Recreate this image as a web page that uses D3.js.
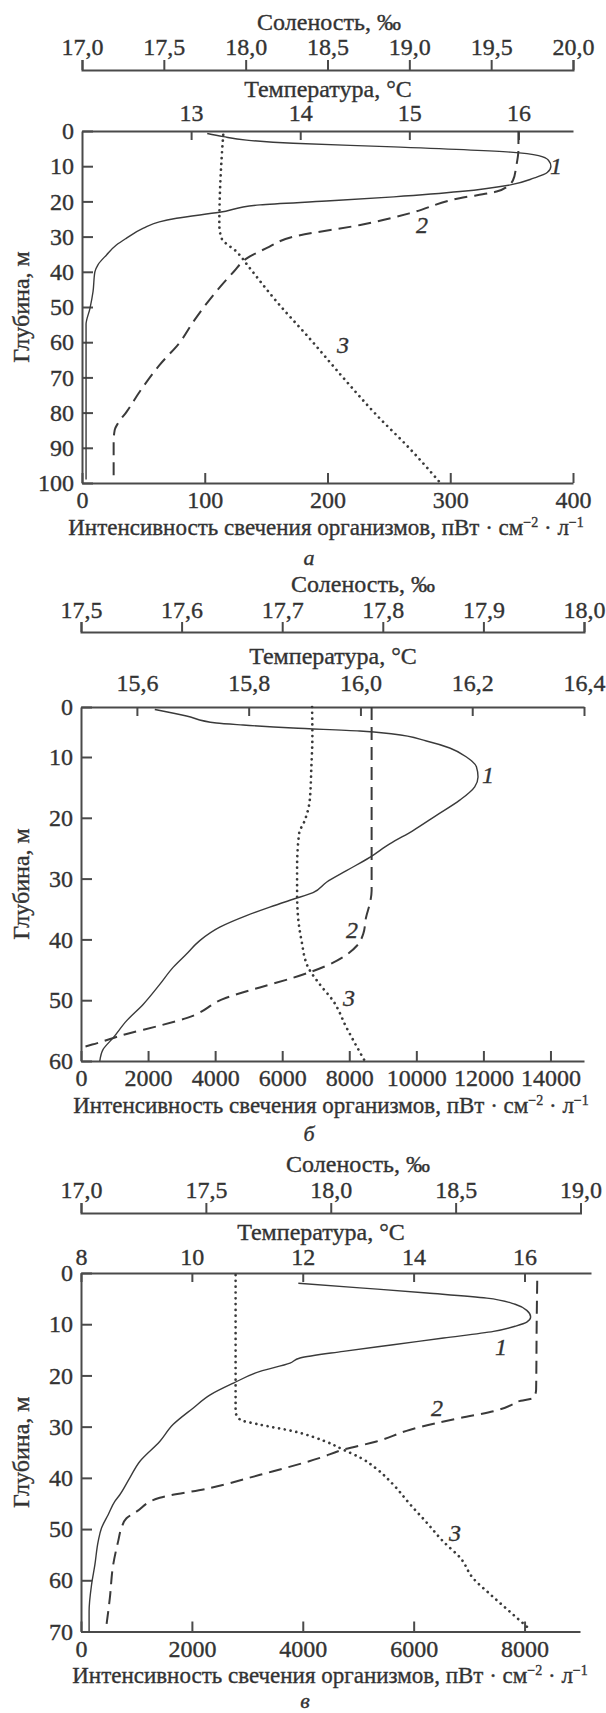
<!DOCTYPE html>
<html><head><meta charset="utf-8">
<script src="https://cdn.jsdelivr.net/npm/d3@7"></script>
<style>
body{margin:0;background:#fff;}
</style></head><body>
<svg id="c" width="606" height="1713" style="font-family:'Liberation Serif','DejaVu Serif',serif"></svg>
<script>
// ===== Panel а =====
const salTicksA = [17.0,17.5,18.0,18.5,19.0,19.5,20.0];
const tempTicksA = [13,14,15,16];
const intTicksA = [0,100,200,300,400];
const depthTicksA = [0,10,20,30,40,50,60,70,80,90,100];
// [depth, value]
const lumA = [[0.7,102],[1.6,115],[2.6,134],[3.5,172],[4.5,254],[6,349],[7,372],[8.3,380],[10,382],[11.8,379],[13.4,368],[15.3,349],[17.2,308],[18.7,254],[19.9,199],[21,145],[23.1,112],[24.8,77],[25.8,63],[27.6,50],[30.5,36],[32.4,28],[35.2,20],[38,13],[40,10.5],[45.6,9],[50.4,6.5],[55,3.3],[99,3.3]];
const tempA = [[0,16.0],[5,16.0],[10,15.98],[14,15.95],[15.5,15.91],[17.2,15.80],[19.1,15.46],[23.4,15.0],[26.7,14.55],[30,13.94],[33.3,13.69],[36.2,13.51],[40,13.39],[45.6,13.23],[54.2,13.02],[59.9,12.90],[66.5,12.71],[74,12.53],[79.7,12.41],[83,12.33],[84.9,12.30],[88.3,12.29],[98.2,12.29]];
const salA = [[1.1,17.863],[7.8,17.853],[17.2,17.843],[26.7,17.839],[30.5,17.853],[34.3,17.945],[39,18.026],[48.5,18.19],[58.9,18.39],[70.3,18.60],[80.7,18.80],[90.1,19.0],[100,19.19]];

// ===== Panel б =====
const salTicksB = [17.5,17.6,17.7,17.8,17.9,18.0];
const tempTicksB = [15.6,15.8,16.0,16.2,16.4];
const intTicksB = [0,2000,4000,6000,8000,10000,12000,14000];
const depthTicksB = [0,10,20,30,40,50,60];
const lumB = [[0.5,2200],[1.8,3146],[3.2,4040],[3.6,4833],[4.2,6324],[4.8,8312],[5.4,9305],[6.8,10301],[8.2,10996],[10,11494],[11.6,11792],[13.3,11840],[14.9,11741],[17.1,11294],[19.6,10600],[22.1,9902],[24.3,9207],[26.5,8611],[28.7,7916],[30.6,7320],[32.3,6920],[33.4,6324],[34.7,5629],[36.1,4934],[38.0,4138],[40.2,3542],[42.4,3146],[44.6,2746],[47.4,2349],[50.7,1852],[53.4,1357],[56.2,957],[58.1,659],[60,561]];
const tempB = [[0,16.02],[10,16.02],[20,16.02],[32,16.02],[33.6,16.018],[36.4,16.01],[39.1,16.005],[41.0,15.994],[44.3,15.94],[46.3,15.88],[47.9,15.82],[49.6,15.76],[52.9,15.69],[54.2,15.64],[55.6,15.58],[57.3,15.52],[57.8,15.5]];
const salB = [[0,17.7297],[5.9,17.730],[11.6,17.729],[17.1,17.7274],[20.4,17.7225],[22.6,17.7168],[28.1,17.7148],[32.5,17.7148],[36.4,17.7158],[40.2,17.7192],[44.6,17.7258],[47.4,17.7374],[50.1,17.7506],[54.5,17.7639],[60,17.7821]];

// ===== Panel в =====
const salTicksC = [17.0,17.5,18.0,18.5,19.0];
const tempTicksC = [8,10,12,14,16];
const intTicksC = [0,2000,4000,6000,8000];
const depthTicksC = [0,10,20,30,40,50,60,70];
const lumC = [[2,3920],[2.9,5030],[3.9,6240],[4.9,7320],[6.1,7830],[7.3,8040],[8.6,8110],[9.6,8040],[10.4,7830],[11.4,7440],[12.7,6540],[14,5630],[15.3,4730],[16.6,3950],[17.6,3770],[19.2,3230],[21.5,2750],[23.8,2330],[26.4,2020],[29.6,1660],[32.9,1420],[36.8,1060],[40,880],[43.3,700],[44.6,610],[47.2,490],[49.8,370],[52.4,310],[57,250],[60.9,190],[66.1,146],[70,146]];
const tempC = [[1.5,16.23],[10,16.22],[22.8,16.21],[24.4,16.16],[25.1,15.88],[25.4,15.83],[27.0,15.44],[28.3,14.84],[30.6,13.94],[32.9,13.33],[34.5,12.73],[36.1,12.31],[39.4,11.23],[42.0,10.32],[43.9,9.42],[46.6,9.0],[47.9,8.82],[49.8,8.73],[52.4,8.67],[57,8.58],[63.5,8.52],[68.7,8.46]];
const salC = [[0.4,17.619],[27,17.619],[28.6,17.636],[29.6,17.716],[30.9,17.85],[32.9,17.98],[34.5,18.05],[36.1,18.12],[38.1,18.18],[41.3,18.25],[45.3,18.32],[48.5,18.38],[52.4,18.45],[55.7,18.52],[59.6,18.57],[62.8,18.64],[65.4,18.70],[68.4,18.77],[69.7,18.80]];

const seriesNames = ["1","2","3"];
const panelLetters = ["а","б","в"];

// ===== drawing =====
const svg = d3.select("#c");
const ru = d3.formatLocale({decimal:",", thousands:"", grouping:[3], currency:["",""]});
const f1 = ru.format(".1f"), fd = ru.format("d");
const FONT = "'Liberation Serif','DejaVu Serif',serif";
const FS = 24, INK = "#333333", AX = "#4a4a4a", LN = "#3a3a3a";

function txt(sel, size){
  return sel.style("font-family", FONT).style("font-size", size+"px").attr("fill", INK)
    .attr("stroke", INK).attr("stroke-width", 0.35);
}
function styleAxis(g){
  g.attr("font-family", null).attr("font-size", null);
  g.selectAll("path.domain").attr("stroke", AX).attr("stroke-width", 2);
  g.selectAll(".tick line").attr("stroke", AX).attr("stroke-width", 2);
  txt(g.selectAll(".tick text"), FS);
}

function panel(p){
  const g = svg.append("g");
  // salinity axis (top-most)
  g.append("g").attr("transform",`translate(0,${p.salY})`)
    .call(d3.axisTop(p.xS).tickValues(p.salTicks).tickFormat(f1).tickSize(10).tickSizeOuter(10).tickPadding(p.salPad))
    .call(styleAxis);
  txt(g.append("text").attr("x",p.salTitle[0]).attr("y",p.salTitle[1]).attr("text-anchor","middle"), FS)
    .text("Соленость, ‰");
  // temperature axis
  g.append("g").attr("transform",`translate(0,${p.topY})`)
    .call(d3.axisTop(p.xT).tickValues(p.tempTicks).tickFormat(p.tempFmt).tickSizeInner(-9).tickSizeOuter(0).tickPadding(p.tempPad))
    .call(styleAxis);
  txt(g.append("text").attr("x",p.tempTitle[0]).attr("y",p.tempTitle[1]).attr("text-anchor","middle"), FS)
    .text("Температура, °C");
  // depth axis
  g.append("g").attr("transform",`translate(${p.xI.range()[0]},0)`)
    .call(d3.axisLeft(p.y).tickValues(p.depthTicks).tickFormat(fd).tickSizeInner(-11).tickSizeOuter(0).tickPadding(8))
    .call(styleAxis);
  const yr = p.y.range();
  const yc = (yr[0]+yr[yr.length-1])/2;
  txt(g.append("text").attr("transform",`translate(${p.depthTitleX},${yc}) rotate(-90)`).attr("text-anchor","middle")
    .attr("dy","0.35em"), FS).text("Глубина, м");
  // intensity axis (bottom)
  g.append("g").attr("transform",`translate(0,${p.botY})`)
    .call(d3.axisBottom(p.xI).tickValues(p.intTicks).tickFormat(fd).tickSizeInner(-10).tickSizeOuter(0).tickPadding(8))
    .call(styleAxis);
  const t = txt(g.append("text").attr("x",p.botTitle[0]).attr("y",p.botTitle[1]).attr("text-anchor","middle"), 23);
  t.append("tspan").text("Интенсивность свечения организмов, пВт · см");
  t.append("tspan").attr("dy",-8).style("font-size","14px").text("−2");
  t.append("tspan").attr("dy",8).text(" · л");
  t.append("tspan").attr("dy",-8).style("font-size","14px").text("−1");
  txt(g.append("text").attr("x",p.letter[0]).attr("y",p.letter[1]).attr("text-anchor","middle"), 22)
    .style("font-style","italic").text(p.letterText);

  // series
  const lineI = d3.line().x(d=>p.xI(d[1])).y(d=>p.y(d[0])).curve(d3.curveMonotoneY);
  const lineT = d3.line().x(d=>p.xT(d[1])).y(d=>p.y(d[0])).curve(d3.curveMonotoneY);
  const lineS = d3.line().x(d=>p.xS(d[1])).y(d=>p.y(d[0])).curve(d3.curveMonotoneY);
  g.append("path").attr("d",lineI(p.lum)).attr("fill","none").attr("stroke",LN).attr("stroke-width",1.4);
  g.append("path").attr("d",lineT(p.temp)).attr("fill","none").attr("stroke",LN).attr("stroke-width",2)
    .attr("stroke-dasharray","13,7");
  g.append("path").attr("d",lineS(p.sal)).attr("fill","none").attr("stroke",LN).attr("stroke-width",2.7)
    .attr("stroke-linecap","round").attr("stroke-dasharray","0.01,5.8");
  p.labels.forEach((L,i)=>{
    txt(g.append("text").attr("x",L[0]).attr("y",L[1]).attr("text-anchor","middle"), 24)
      .style("font-style","italic").text(seriesNames[i]);
  });
}

// panel а
panel({
  xI: d3.scaleLinear().domain([0,400]).range([82,573]),
  xT: d3.scaleLinear().domain([12,16.5]).range([82,573]),
  xS: d3.scaleLinear().domain([17,20]).range([82,573]),
  y: d3.scaleLinear().domain([0,100]).range([131,483]),
  salTicks: salTicksA, tempTicks: tempTicksA, intTicks: intTicksA, depthTicks: depthTicksA,
  tempFmt: fd, salY: 70, salPad: 5, topY: 131, tempPad: 10, botY: 483,
  salTitle:[329,30], tempTitle:[328,97], botTitle:[326,535], depthTitleX: 21,
  letter:[309,565], letterText: panelLetters[0],
  lum: lumA, temp: tempA, sal: salA,
  labels: [[556,174],[422,233],[343,353]]
});
// panel б
panel({
  xI: d3.scaleLinear().domain([0,15000]).range([81,584]),
  xT: d3.scaleLinear().domain([15.5,16.4]).range([81,584]),
  xS: d3.scaleLinear().domain([17.5,18.0]).range([81,584]),
  y: d3.scaleLinear().domain([0,10,60]).range([707,757,1061]),
  salTicks: salTicksB, tempTicks: tempTicksB, intTicks: intTicksB, depthTicks: depthTicksB,
  tempFmt: f1, salY: 632, salPad: 4, topY: 707, tempPad: 16, botY: 1061,
  salTitle:[363,592], tempTitle:[333,664], botTitle:[331,1113], depthTitleX: 21,
  letter:[309,1141], letterText: panelLetters[1],
  lum: lumB, temp: tempB, sal: salB,
  labels: [[488,783],[352,938],[349,1006]]
});
// panel в
panel({
  xI: d3.scaleLinear().domain([0,9000]).range([81,580]),
  xT: d3.scaleLinear().domain([8,17.2]).range([81,591]),
  xS: d3.scaleLinear().domain([17,19]).range([81,580.5]),
  y: d3.scaleLinear().domain([0,70]).range([1273,1631.5]),
  salTicks: salTicksC, tempTicks: tempTicksC, intTicks: intTicksC, depthTicks: depthTicksC,
  tempFmt: fd, salY: 1213, salPad: 5, topY: 1273, tempPad: 8, botY: 1631.5,
  salTitle:[358,1172], tempTitle:[321,1240], botTitle:[330,1682.5], depthTitleX: 21,
  letter:[305,1707.5], letterText: panelLetters[2],
  lum: lumC, temp: tempC, sal: salC,
  labels: [[501,1355],[437,1416],[455,1541]]
});
</script>
</body></html>
